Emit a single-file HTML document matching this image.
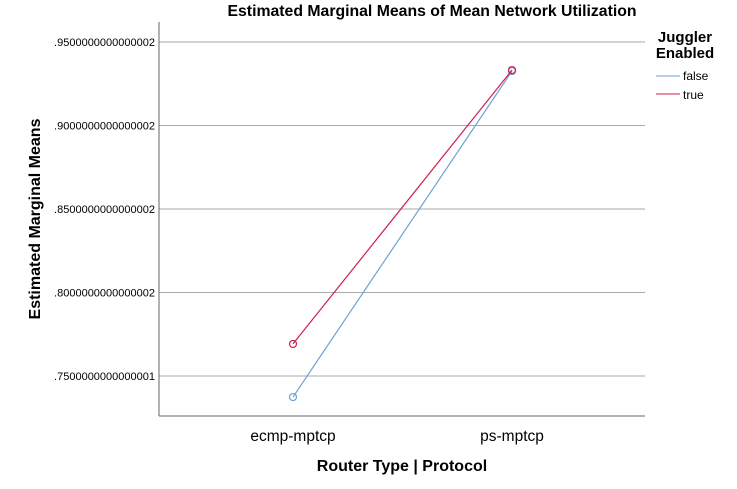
<!DOCTYPE html>
<html><head><meta charset="utf-8"><style>
body{margin:0;background:#fff;width:737px;height:484px;overflow:hidden}
svg text{font-family:"Liberation Sans",Arial,sans-serif}
</style></head><body>
<svg width="737" height="484">
<text x="432" y="16" text-anchor="middle" font-size="15.8" font-weight="bold">Estimated Marginal Means of Mean Network Utilization</text>
<g id="grid"></g>
<g id="yticks"></g>
<line x1="159" y1="22" x2="159" y2="416" stroke="#666"/>
<line x1="159" y1="416" x2="645" y2="416" stroke="#666"/>
<g id="xticks"></g>
<g id="series"></g>
<text transform="translate(40,219) rotate(-90)" text-anchor="middle" font-size="16" font-weight="bold">Estimated Marginal Means</text>
<text x="402" y="471" text-anchor="middle" font-size="16" font-weight="bold">Router Type | Protocol</text>
<g>
<text x="685" y="42" text-anchor="middle" font-size="15" font-weight="bold"><tspan x="685">Juggler</tspan><tspan x="685" dy="16">Enabled</tspan></text>
<g><line x1="656" y1="76" x2="680" y2="76" stroke="#6f9fd8"/><text x="683" y="80" font-size="12">false</text></g>
<g><line x1="656" y1="94" x2="680" y2="94" stroke="#d0204a"/><text x="683" y="99" font-size="12">true</text></g>
</g>
</svg>
<script>
const categories=["ecmp-mptcp","ps-mptcp"];
const seriesNames=["false","true"];
const falseValues=[0.7374,0.9326];
const trueValues=[0.7692,0.9332];
const yTicks=[0.75,0.80,0.85,0.90,0.95];
const yTickLabels=[".7500000000000001",".8000000000000002",".8500000000000002",".9000000000000002",".9500000000000002"];
const colors=["#6f9fd8","#d0204a"];
const ns="http://www.w3.org/2000/svg";
function y(v){return 376-(v-0.75)/0.05*83.5;}
function x(i){return 293+i*219;}
function mk(tag,attrs,parent){const e=document.createElementNS(ns,tag);for(const k in attrs)e.setAttribute(k,attrs[k]);document.getElementById(parent).appendChild(e);return e;}
yTicks.forEach((t,i)=>{
 const g=mk("line",{x1:159,x2:645,y1:y(t),y2:y(t),stroke:"#aaa"},"grid");
 
 
 const l=mk("text",{x:155,y:y(t)+4,"text-anchor":"end","font-size":"11"},"yticks");
 l.textContent=yTickLabels[i];
 
 
});
categories.forEach((c,i)=>{
 const l=mk("text",{x:x(i),y:441,"text-anchor":"middle","font-size":"15.5"},"xticks");
 l.textContent=c;
 
 
});
[falseValues,trueValues].forEach((vals,s)=>{
 const pts=vals.map((v,i)=>x(i)+","+y(v)).join(" ");
 const pl=mk("polyline",{points:pts,fill:"none",stroke:colors[s],"stroke-width":1.2},"series");
 
 
 vals.forEach((v,i)=>{
  const c=mk("circle",{cx:x(i),cy:y(v),r:3.5,fill:"none",stroke:colors[s],"stroke-width":1.2},"series");
  
  
 });
});
</script>
</body></html>
